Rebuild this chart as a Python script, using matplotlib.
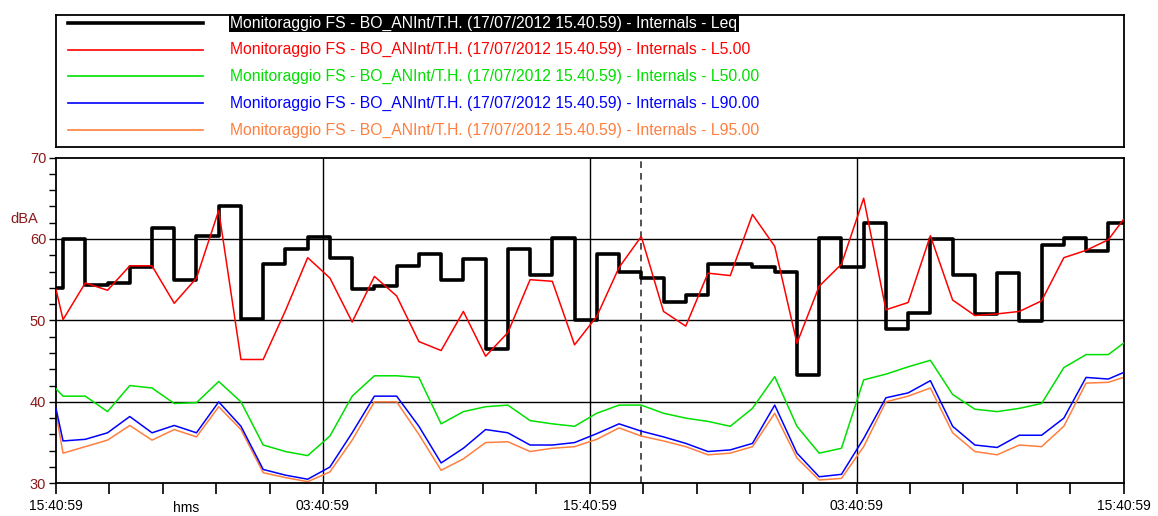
import pandas as pd
import matplotlib
matplotlib.use("Agg")
import matplotlib.pyplot as plt
import matplotlib.dates as mdates
from matplotlib.ticker import FixedLocator, MultipleLocator

plt.rcParams['font.family'] = ['Liberation Sans', 'DejaVu Sans']

# === Dati: livelli orari (dBA), 17/07/2012 15:40:59 -> 19/07/2012 15:40:59 ===
start = pd.Timestamp("2012-07-17 15:40:59")
end = pd.Timestamp("2012-07-19 15:40:59")
hours = pd.date_range("2012-07-17 16:00:00", periods=48, freq="h")
times = [start] + list(hours) + [end]

# Leq: un valore per intervallo (tratto iniziale + 48 ore)
leq = [54.0, 60.0, 54.4, 54.6, 56.6, 61.4, 55.0, 60.4, 64.0, 50.2,
       56.9, 58.8, 60.3, 57.6, 53.9, 54.2, 56.7, 58.2, 54.9, 57.5,
       46.5, 58.8, 55.6, 60.1, 50.1, 58.1, 55.9, 55.2, 52.3, 53.1,
       56.9, 56.9, 56.5, 55.9, 43.3, 60.1, 56.5, 61.9, 48.9, 50.9,
       60.0, 55.6, 50.8, 55.8, 49.9, 59.2, 60.1, 58.5, 61.9]

l5 = [53.8, 50.1, 54.6, 53.7, 56.7, 56.7, 52.1, 55.2, 63.5, 45.2,
      45.2, 51.2, 57.7, 55.2, 49.8, 55.4, 53.0, 47.4, 46.3, 51.1,
      45.6, 48.5, 55.0, 54.8, 47.0, 50.5, 56.5, 60.3, 51.1, 49.3,
      55.8, 55.5, 63.0, 59.1, 47.2, 54.2, 56.9, 65.0, 51.3, 52.2,
      60.4, 52.5, 50.6, 50.8, 51.1, 52.4, 57.7, 58.6, 59.9, 62.4]

l50 = [41.6, 40.7, 40.7, 38.8, 42.0, 41.7, 39.8, 39.9, 42.5, 40.0,
       34.7, 33.9, 33.4, 35.8, 40.7, 43.2, 43.2, 43.0, 37.3, 38.8,
       39.4, 39.6, 37.7, 37.3, 37.0, 38.6, 39.6, 39.6, 38.6, 38.0,
       37.6, 37.0, 39.2, 43.1, 37.0, 33.7, 34.3, 42.7, 43.4, 44.3,
       45.1, 40.9, 39.1, 38.8, 39.2, 39.8, 44.2, 45.8, 45.8, 47.2]

l90 = [39.2, 35.2, 35.4, 36.2, 38.2, 36.2, 37.1, 36.2, 40.0, 37.0,
       31.7, 31.0, 30.5, 32.0, 36.2, 40.7, 40.7, 37.0, 32.5, 34.3,
       36.6, 36.2, 34.7, 34.7, 35.0, 36.1, 37.3, 36.4, 35.7, 34.9,
       33.9, 34.1, 34.9, 39.6, 33.7, 30.8, 31.1, 35.5, 40.5, 41.1,
       42.6, 37.0, 34.7, 34.4, 35.9, 35.9, 38.0, 43.0, 42.8, 43.6]

l95 = [38.6, 33.7, 34.5, 35.3, 37.1, 35.3, 36.6, 35.7, 39.4, 36.6,
       31.3, 30.7, 30.2, 31.4, 35.3, 40.0, 40.0, 36.0, 31.6, 33.0,
       35.0, 35.1, 33.9, 34.3, 34.5, 35.4, 36.8, 35.8, 35.2, 34.5,
       33.5, 33.7, 34.5, 38.6, 33.1, 30.4, 30.6, 34.5, 40.0, 40.7,
       41.7, 36.2, 33.9, 33.5, 34.7, 34.5, 37.0, 42.3, 42.4, 43.0]

label_base = "Monitoraggio FS - BO_ANInt/T.H. (17/07/2012 15.40.59) - Internals - "
series_names = ["Leq", "L5.00", "L50.00", "L90.00", "L95.00"]
colors = ["#000000", "#ff0000", "#00e000", "#0000ff", "#ff7f3f"]
cursor_idx = 27  # cursore tratteggiato

W, H = 1158, 516
fig = plt.figure(figsize=(W / 100, H / 100), dpi=100)

# === Grafico principale ===
ax = fig.add_axes([56 / W, (H - 483.3) / H, (1123.5 - 56) / W, (483.3 - 157.5) / H])
x = mdates.date2num(times)

for yv in (40, 50, 60):
    ax.axhline(yv, color="black", lw=1.0, zorder=1)
for h in (12, 24, 36):
    ax.axvline(mdates.date2num(start + pd.Timedelta(hours=h)), color="black", lw=1.0, zorder=1)
ax.axvline(x[cursor_idx], color="#333333", lw=1.2, ls=(0, (4, 3)), zorder=1)

ax.plot(x, l95, color=colors[4], lw=1.1, zorder=2)
ax.plot(x, l90, color=colors[3], lw=1.1, zorder=3)
ax.plot(x, l50, color=colors[2], lw=1.1, zorder=3)
ax.step(x, leq + [leq[-1]], where="post", color=colors[0], lw=2.6, zorder=4)
ax.plot(x, l5, color=colors[1], lw=1.1, zorder=5)

ax.set_xlim(x[0], x[-1])
ax.set_ylim(30, 70)

major = [mdates.date2num(start + pd.Timedelta(hours=12 * i)) for i in range(5)]
minor = [mdates.date2num(start + pd.Timedelta(minutes=144 * i)) for i in range(21)]
ax.xaxis.set_major_locator(FixedLocator(major))
ax.xaxis.set_minor_locator(FixedLocator(minor))
ax.xaxis.set_major_formatter(mdates.DateFormatter("%H:%M:%S"))
ax.yaxis.set_major_locator(MultipleLocator(10))
ax.yaxis.set_minor_locator(MultipleLocator(2))

ax.tick_params(axis="x", which="both", direction="out", length=8, width=1.2,
               labelsize=10, pad=3, colors="black")
ax.tick_params(axis="y", which="both", direction="out", length=5, width=1.0,
               labelsize=10.5, pad=2, labelcolor="#8b1a1a")
for sp in ax.spines.values():
    sp.set_linewidth(1.3)

ax.text(-0.043, 0.81, "dBA", transform=ax.transAxes, color="#8b1a1a",
        fontsize=10.5, ha="left", va="center")
ax.text(0.122, -0.076, "hms", transform=ax.transAxes, color="black",
        fontsize=10, ha="center", va="center")

# === Legenda ===
lg = fig.add_axes([56 / W, 1 - 147 / H, (1123.5 - 56) / W, 132 / H])
lg.set_xlim(56, 1123.5)
lg.set_ylim(147, 15)
lg.set_xticks([])
lg.set_yticks([])
for sp in lg.spines.values():
    sp.set_linewidth(1.3)

rows = [23, 49.5, 76, 103, 130]
for i, (name, col) in enumerate(zip(series_names, colors)):
    lw = 2.6 if i == 0 else 1.2
    lg.plot([68, 203], [rows[i], rows[i]], color=col, lw=lw)
    if i == 0:
        lg.text(230, rows[i], label_base + name, color="white", fontsize=11.3,
                va="center", ha="left",
                bbox=dict(facecolor="black", edgecolor="none", pad=1.0))
    else:
        lg.text(230, rows[i], label_base + name, color=col, fontsize=11.3,
                va="center", ha="left")

fig.savefig("out.png", dpi=100)
